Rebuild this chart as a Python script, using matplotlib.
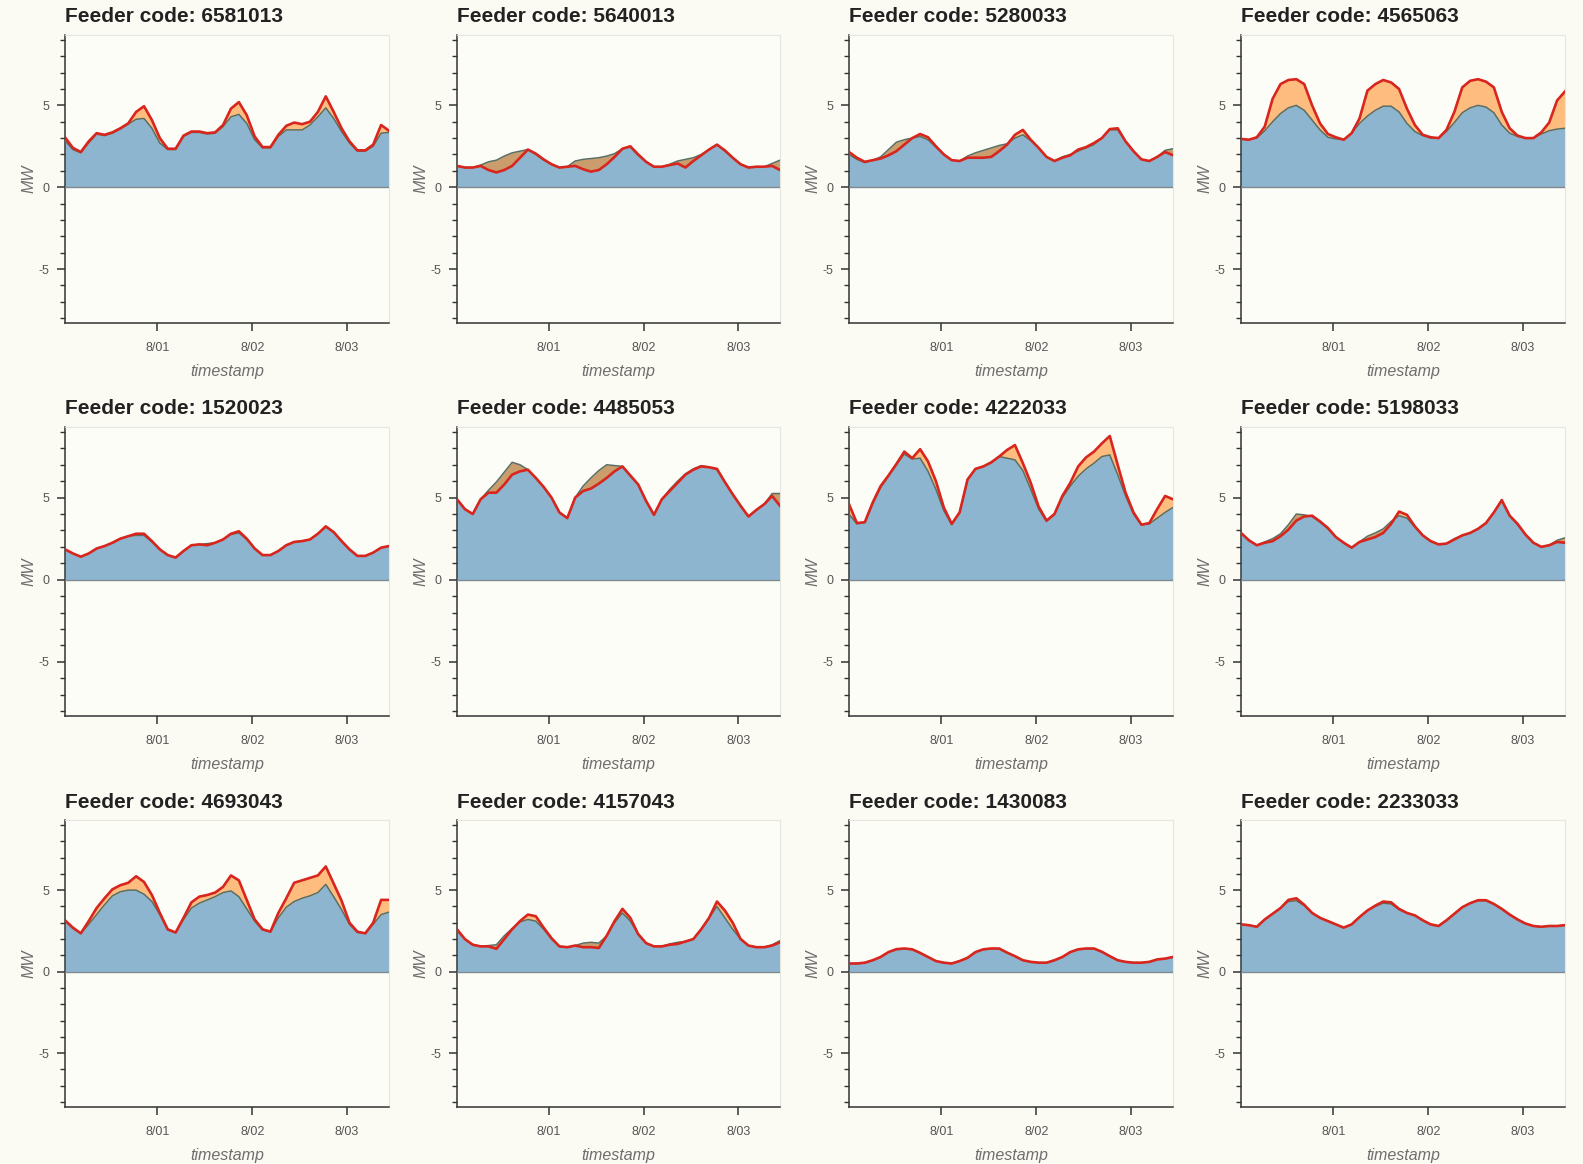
import datetime
import matplotlib
matplotlib.use("Agg")
import matplotlib.pyplot as plt
import matplotlib.dates as mdates
from matplotlib.ticker import MultipleLocator, FuncFormatter

plt.rcParams['axes.unicode_minus'] = False
plt.rcParams['font.family'] = ['Liberation Sans', 'DejaVu Sans']

# Feeder codes, in panel order (row by row)
feeder_codes = ["6581013", "5640013", "5280033", "4565063",
                "1520023", "4485053", "4222033", "5198033",
                "4693043", "4157043", "1430083", "2233033"]

# Samples every 2 hours, starting 7/31 00:36
n_samples = 42
start_time = datetime.datetime(2020, 7, 31, 0, 36)
step = datetime.timedelta(hours=2)

# Baseline load (MW) and load with extra demand (MW), per feeder
base_6581013 = [2.85, 2.3, 2.1, 2.7, 3.25, 3.15, 3.3, 3.55, 3.85, 4.15, 4.2, 3.6, 2.7, 2.3,
                2.3, 3.1, 3.35, 3.35, 3.25, 3.3, 3.7, 4.3, 4.45, 3.9, 2.9, 2.4, 2.4, 3.1,
                3.5, 3.5, 3.5, 3.8, 4.3, 4.85, 4.2, 3.4, 2.7, 2.2, 2.2, 2.5, 3.3, 3.35]
load_6581013 = [3.05, 2.4, 2.15, 2.8, 3.3, 3.2, 3.35, 3.6, 3.9, 4.6, 4.95, 4.1, 3.0, 2.35,
                2.35, 3.15, 3.4, 3.4, 3.3, 3.35, 3.8, 4.8, 5.2, 4.4, 3.1, 2.45, 2.45, 3.2,
                3.75, 3.95, 3.85, 4.0, 4.6, 5.55, 4.6, 3.6, 2.8, 2.25, 2.25, 2.6, 3.8, 3.45]

base_5640013 = [1.3, 1.2, 1.2, 1.35, 1.55, 1.65, 1.9, 2.1, 2.2, 2.3, 2.0, 1.65, 1.4, 1.2,
                1.25, 1.6, 1.7, 1.75, 1.8, 1.9, 2.05, 2.35, 2.45, 1.95, 1.55, 1.25, 1.25, 1.4,
                1.6, 1.7, 1.8, 2.0, 2.3, 2.6, 2.2, 1.8, 1.4, 1.2, 1.25, 1.25, 1.45, 1.65]
load_5640013 = [1.3, 1.2, 1.2, 1.3, 1.05, 0.9, 1.05, 1.3, 1.8, 2.3, 2.05, 1.7, 1.4, 1.2,
                1.25, 1.3, 1.1, 0.95, 1.05, 1.4, 1.85, 2.35, 2.5, 2.0, 1.55, 1.25, 1.25, 1.35,
                1.45, 1.2, 1.6, 1.95, 2.3, 2.6, 2.25, 1.8, 1.4, 1.2, 1.25, 1.25, 1.3, 1.05]

base_5280033 = [2.0, 1.7, 1.5, 1.65, 1.85, 2.3, 2.75, 2.9, 3.0, 3.1, 2.9, 2.45, 2.0, 1.65,
                1.6, 1.9, 2.1, 2.25, 2.4, 2.55, 2.65, 3.0, 3.2, 2.85, 2.4, 1.85, 1.6, 1.85,
                2.0, 2.2, 2.4, 2.6, 3.0, 3.5, 3.5, 2.8, 2.2, 1.7, 1.6, 1.85, 2.25, 2.35]
load_5280033 = [2.15, 1.8, 1.55, 1.65, 1.75, 1.95, 2.2, 2.6, 3.0, 3.25, 3.05, 2.5, 2.0, 1.65,
                1.6, 1.8, 1.8, 1.8, 1.85, 2.2, 2.6, 3.2, 3.5, 2.9, 2.4, 1.85, 1.6, 1.8,
                1.95, 2.3, 2.45, 2.7, 3.0, 3.55, 3.6, 2.8, 2.2, 1.7, 1.6, 1.85, 2.15, 1.95]

base_4565063 = [2.95, 2.9, 3.0, 3.45, 4.0, 4.5, 4.85, 5.0, 4.7, 4.1, 3.5, 3.05, 2.95, 2.9,
                3.3, 3.9, 4.35, 4.7, 4.95, 4.95, 4.6, 3.9, 3.4, 3.15, 3.0, 3.0, 3.4, 3.95,
                4.55, 4.85, 5.0, 4.9, 4.55, 3.8, 3.3, 3.1, 3.0, 3.0, 3.25, 3.45, 3.55, 3.6]
load_4565063 = [2.95, 2.9, 3.05, 3.7, 5.4, 6.3, 6.55, 6.6, 6.3, 5.0, 3.9, 3.25, 3.05, 2.9,
                3.3, 4.2, 5.9, 6.3, 6.55, 6.4, 6.0, 4.8, 3.8, 3.2, 3.05, 3.0, 3.5, 4.6,
                6.1, 6.5, 6.6, 6.45, 6.1, 4.6, 3.6, 3.15, 3.0, 3.0, 3.35, 3.95, 5.3, 5.85]

base_1520023 = [1.85, 1.6, 1.4, 1.6, 1.9, 2.05, 2.25, 2.5, 2.65, 2.7, 2.7, 2.3, 1.85, 1.5,
                1.35, 1.75, 2.1, 2.15, 2.2, 2.25, 2.45, 2.75, 2.85, 2.45, 1.9, 1.5, 1.5, 1.75,
                2.1, 2.3, 2.35, 2.45, 2.8, 3.2, 2.9, 2.35, 1.85, 1.45, 1.45, 1.65, 1.95, 2.05]
load_1520023 = [1.85, 1.6, 1.4, 1.6, 1.9, 2.05, 2.25, 2.5, 2.65, 2.8, 2.8, 2.35, 1.85, 1.5,
                1.35, 1.75, 2.1, 2.15, 2.1, 2.25, 2.45, 2.8, 2.95, 2.5, 1.9, 1.5, 1.5, 1.75,
                2.1, 2.3, 2.35, 2.45, 2.8, 3.25, 2.9, 2.35, 1.85, 1.45, 1.45, 1.65, 1.95, 2.05]

base_4485053 = [4.9, 4.3, 4.0, 4.9, 5.45, 5.95, 6.55, 7.15, 7.0, 6.7, 6.2, 5.65, 5.0, 4.1,
                3.75, 5.0, 5.7, 6.2, 6.65, 7.0, 6.95, 6.9, 6.3, 5.8, 4.8, 3.95, 4.9, 5.5,
                6.0, 6.45, 6.75, 6.95, 6.85, 6.7, 5.95, 5.2, 4.5, 3.85, 4.25, 4.6, 5.25, 5.25]
load_4485053 = [4.9, 4.3, 4.0, 4.9, 5.3, 5.3, 5.8, 6.4, 6.6, 6.7, 6.2, 5.65, 5.0, 4.1,
                3.75, 5.0, 5.4, 5.55, 5.85, 6.2, 6.6, 6.9, 6.35, 5.8, 4.8, 3.95, 4.9, 5.4,
                5.9, 6.4, 6.7, 6.9, 6.85, 6.75, 5.95, 5.2, 4.5, 3.85, 4.25, 4.6, 5.1, 4.5]

base_4222033 = [4.0, 3.4, 3.5, 4.6, 5.6, 6.3, 7.0, 7.65, 7.35, 7.4, 6.6, 5.5, 4.2, 3.35,
                4.1, 6.1, 6.75, 6.9, 7.1, 7.5, 7.4, 7.3, 6.65, 5.5, 4.3, 3.55, 4.0, 5.0,
                5.7, 6.3, 6.75, 7.1, 7.5, 7.6, 6.4, 5.1, 4.0, 3.35, 3.4, 3.75, 4.1, 4.4]
load_4222033 = [4.6, 3.45, 3.5, 4.7, 5.7, 6.35, 7.05, 7.8, 7.4, 7.95, 7.2, 6.0, 4.4, 3.4,
                4.1, 6.1, 6.75, 6.9, 7.15, 7.5, 7.9, 8.2, 7.1, 5.9, 4.45, 3.6, 4.0, 5.1,
                5.9, 6.9, 7.45, 7.8, 8.3, 8.75, 7.0, 5.3, 4.1, 3.35, 3.45, 4.3, 5.1, 4.9]

base_5198033 = [2.85, 2.4, 2.1, 2.3, 2.5, 2.8, 3.35, 4.0, 3.95, 3.85, 3.5, 3.1, 2.6, 2.25,
                1.95, 2.3, 2.65, 2.85, 3.1, 3.55, 3.9, 3.75, 3.2, 2.7, 2.35, 2.15, 2.2, 2.5,
                2.7, 2.85, 3.1, 3.45, 4.1, 4.8, 3.9, 3.35, 2.75, 2.25, 2.0, 2.1, 2.4, 2.55]
load_5198033 = [2.85, 2.4, 2.1, 2.25, 2.35, 2.65, 3.05, 3.6, 3.85, 3.9, 3.55, 3.15, 2.6, 2.25,
                1.95, 2.3, 2.45, 2.6, 2.85, 3.4, 4.15, 3.95, 3.25, 2.7, 2.35, 2.15, 2.2, 2.45,
                2.7, 2.85, 3.1, 3.45, 4.1, 4.85, 3.9, 3.4, 2.75, 2.25, 2.0, 2.1, 2.3, 2.25]

base_4693043 = [3.1, 2.65, 2.35, 2.9, 3.5, 4.1, 4.65, 4.9, 5.0, 5.0, 4.75, 4.3, 3.5, 2.55,
                2.4, 3.2, 3.9, 4.2, 4.4, 4.6, 4.85, 4.95, 4.6, 3.85, 3.1, 2.55, 2.45, 3.3,
                3.95, 4.3, 4.5, 4.65, 4.85, 5.35, 4.6, 3.8, 2.9, 2.4, 2.35, 2.9, 3.5, 3.65]
load_4693043 = [3.15, 2.7, 2.35, 3.1, 3.9, 4.5, 5.05, 5.3, 5.45, 5.85, 5.5, 4.7, 3.6, 2.6,
                2.4, 3.3, 4.25, 4.6, 4.7, 4.85, 5.2, 5.9, 5.6, 4.4, 3.2, 2.6, 2.45, 3.6,
                4.5, 5.45, 5.6, 5.75, 5.9, 6.45, 5.4, 4.35, 3.0, 2.45, 2.35, 3.0, 4.4, 4.4]

base_4157043 = [2.5, 2.0, 1.65, 1.55, 1.6, 1.65, 2.2, 2.65, 3.05, 3.2, 3.1, 2.6, 2.0, 1.55,
                1.5, 1.6, 1.75, 1.8, 1.75, 2.2, 3.0, 3.6, 3.1, 2.3, 1.75, 1.55, 1.55, 1.7,
                1.8, 1.85, 2.0, 2.6, 3.3, 4.0, 3.3, 2.6, 2.0, 1.6, 1.5, 1.5, 1.65, 1.9]
load_4157043 = [2.6, 2.0, 1.65, 1.55, 1.55, 1.4, 2.0, 2.6, 3.1, 3.5, 3.4, 2.7, 2.05, 1.55,
                1.5, 1.6, 1.5, 1.5, 1.45, 2.2, 3.1, 3.85, 3.3, 2.3, 1.75, 1.55, 1.55, 1.65,
                1.7, 1.85, 2.0, 2.6, 3.3, 4.3, 3.75, 3.0, 2.0, 1.6, 1.5, 1.5, 1.6, 1.8]

base_1430083 = [0.5, 0.5, 0.55, 0.7, 0.9, 1.2, 1.35, 1.4, 1.35, 1.15, 0.9, 0.65, 0.55, 0.5,
                0.65, 0.85, 1.2, 1.35, 1.4, 1.4, 1.15, 0.95, 0.7, 0.6, 0.55, 0.55, 0.7, 0.9,
                1.2, 1.35, 1.4, 1.4, 1.2, 0.95, 0.7, 0.6, 0.55, 0.55, 0.6, 0.75, 0.8, 0.9]
load_1430083 = [0.5, 0.5, 0.55, 0.7, 0.9, 1.2, 1.38, 1.42, 1.37, 1.15, 0.9, 0.65, 0.55, 0.5,
                0.65, 0.85, 1.2, 1.37, 1.42, 1.42, 1.17, 0.95, 0.7, 0.6, 0.55, 0.55, 0.7, 0.9,
                1.2, 1.37, 1.42, 1.42, 1.22, 0.95, 0.7, 0.6, 0.55, 0.55, 0.6, 0.75, 0.8, 0.9]

base_2233033 = [2.9, 2.85, 2.75, 3.2, 3.55, 3.9, 4.3, 4.35, 4.05, 3.6, 3.3, 3.1, 2.9, 2.7,
                2.9, 3.35, 3.75, 4.0, 4.2, 4.15, 3.8, 3.6, 3.45, 3.15, 2.9, 2.8, 3.15, 3.55,
                3.95, 4.2, 4.35, 4.35, 4.15, 3.85, 3.5, 3.2, 2.95, 2.8, 2.75, 2.8, 2.8, 2.85]
load_2233033 = [2.9, 2.85, 2.75, 3.2, 3.55, 3.9, 4.4, 4.5, 4.1, 3.6, 3.3, 3.1, 2.9, 2.7,
                2.9, 3.35, 3.75, 4.05, 4.3, 4.25, 3.85, 3.6, 3.45, 3.15, 2.9, 2.8, 3.15, 3.55,
                3.95, 4.2, 4.38, 4.38, 4.15, 3.85, 3.5, 3.2, 2.95, 2.8, 2.75, 2.8, 2.8, 2.85]

base_series = [base_6581013, base_5640013, base_5280033, base_4565063,
               base_1520023, base_4485053, base_4222033, base_5198033,
               base_4693043, base_4157043, base_1430083, base_2233033]
load_series = [load_6581013, load_5640013, load_5280033, load_4565063,
               load_1520023, load_4485053, load_4222033, load_5198033,
               load_4693043, load_4157043, load_1430083, load_2233033]

times = [start_time + i * step for i in range(n_samples)]

# Colours
BgColour = "#fcfbf3"
BlueFill = "#8db5cf"
BlueEdge = "#5a6e62"
OrangeFill = "#ff8a1c"
RedLine = "#d8261e"
TickGrey = "#555555"
LabelGrey = "#6e6e6e"

W, H = 1583, 1164
fig = plt.figure(figsize=(W / 100, H / 100), dpi=100, facecolor=BgColour)

# Axes boxes in pixels (left, top, right, bottom)
col_left = [65, 457, 849, 1241]
col_right = [389, 780, 1173, 1565]
row_top = [35, 427, 820]
row_bottom = [323, 716, 1107]

def day_label(x, pos):
    d = mdates.num2date(x)
    return "%d/%02d" % (d.month, d.day)

for i, code in enumerate(feeder_codes):
    r, c = divmod(i, 4)
    l, t = col_left[c], row_top[r]
    ax = fig.add_axes([l / W, 1 - row_bottom[r] / H,
                       (col_right[c] - l) / W, (row_bottom[r] - t) / H])
    ax.set_facecolor("#fdfdf8")

    base = base_series[i]
    load = load_series[i]

    # Baseline area, then the extra load drawn from the baseline
    ax.fill_between(times, 0, base, color=BlueFill, lw=0, zorder=1)
    ax.fill_between(times, base, load, color=OrangeFill, alpha=0.55, lw=0, zorder=2)
    ax.plot(times, base, color=BlueEdge, lw=1.1, zorder=3)
    ax.plot(times, load, color=RedLine, lw=1.9, zorder=4)
    ax.axhline(0, color="#7f8a90", lw=1.0, zorder=3)

    ax.set_xlim(times[0], times[-1])
    ax.set_ylim(-8.3, 9.3)

    ax.xaxis.set_major_locator(mdates.DayLocator())
    ax.xaxis.set_major_formatter(FuncFormatter(day_label))
    ax.yaxis.set_major_locator(MultipleLocator(5))
    ax.yaxis.set_minor_locator(MultipleLocator(1))

    for s in ["top", "right"]:
        ax.spines[s].set_color("#e6e6e0")
        ax.spines[s].set_linewidth(0.8)
    for s in ["left", "bottom"]:
        ax.spines[s].set_color("#333333")
        ax.spines[s].set_linewidth(1.1)

    ax.tick_params(axis="both", which="major", direction="out", length=6, width=1.1,
                   color="#333333", labelsize=9, labelcolor=TickGrey)
    ax.tick_params(axis="x", which="major", pad=8)
    ax.tick_params(axis="y", which="major", pad=5)
    ax.tick_params(axis="y", which="minor", direction="out", length=3.5, width=1.0,
                   color="#333333")

    ax.set_xlabel("timestamp", fontsize=11.5, style="italic", color=LabelGrey, labelpad=7)
    ax.set_ylabel("MW", fontsize=11.5, style="italic", color=LabelGrey, labelpad=2)
    ax.set_title("Feeder code: %s" % code, loc="left", fontsize=15,
                 fontweight="bold", color="#222222", pad=9)

fig.savefig("out.png", dpi=100, facecolor=BgColour)
